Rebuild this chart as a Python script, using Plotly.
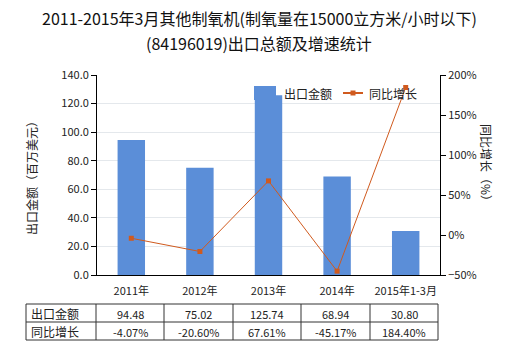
import plotly.graph_objects as go

categories = ["2011年", "2012年", "2013年", "2014年", "2015年1-3月"]
export_values = [94.48, 75.02, 125.74, 68.94, 30.80]
growth_values = [-4.07, -20.60, 67.61, -45.17, 184.40]
row_labels = ["出口金额", "同比增长"]
series_names = ["出口金额", "同比增长"]
title_lines = ["2011-2015年3月其他制氧机(制氧量在15000立方米/小时以下)",
               "(84196019)出口总额及增速统计"]

W, H = 520, 350
L, R, T, B = 97, 440, 75, 275
FONT = "Noto Sans CJK SC"
BAR_C = "#5B8ED8"
LINE_C = "#D05A1E"

def px(x):
    return (x - L) / (R - L)

def py(y):
    return (B - y) / (B - T)

fig = go.Figure()
fig.add_trace(go.Bar(x=categories, y=export_values, name=series_names[0],
                     marker=dict(color=BAR_C, line=dict(width=0)),
                     width=0.4, yaxis="y"))
fig.add_trace(go.Scatter(x=categories, y=growth_values, name=series_names[1],
                         mode="lines+markers", yaxis="y2",
                         line=dict(color=LINE_C, width=1),
                         marker=dict(symbol="square", size=5, color=LINE_C)))

shapes = []
annotations = []
# table
col_x = [26, 96, 164, 233, 301, 370, 438]
row_y = [304, 322, 340]
for y in row_y:
    shapes.append(dict(type="line", xref="paper", yref="paper",
                       x0=px(col_x[0]), x1=px(col_x[-1]), y0=py(y), y1=py(y),
                       line=dict(color="#333333", width=1)))
for x in col_x:
    shapes.append(dict(type="line", xref="paper", yref="paper",
                       x0=px(x), x1=px(x), y0=py(row_y[0]), y1=py(row_y[-1]),
                       line=dict(color="#333333", width=1)))
rows = [[f"{v:.2f}" for v in export_values], [f"{v:.2f}%" for v in growth_values]]
for r, (lab, vals) in enumerate(zip(row_labels, rows)):
    yc = (row_y[r] + row_y[r + 1]) / 2
    annotations.append(dict(text=lab, xref="paper", yref="paper", x=px(col_x[0] + 3),
                            y=py(yc), xanchor="left", yanchor="middle", showarrow=False,
                            font=dict(size=12, color="#222", family=FONT)))
    for i, v in enumerate(vals):
        xc = (col_x[i + 1] + col_x[i + 2]) / 2
        annotations.append(dict(text=v, xref="paper", yref="paper", x=px(xc), y=py(yc + 1),
                                xanchor="center", yanchor="middle", showarrow=False,
                                font=dict(size=11, color="#222", family=FONT)))

# custom legend
shapes.append(dict(type="rect", xref="paper", yref="paper",
                   x0=px(254), x1=px(276), y0=py(86), y1=py(100),
                   fillcolor=BAR_C, line=dict(width=0)))
annotations.append(dict(text=series_names[0], xref="paper", yref="paper", x=px(282), y=py(93),
                        xanchor="left", yanchor="middle", showarrow=False,
                        font=dict(size=12, color="#222", family=FONT)))
shapes.append(dict(type="line", xref="paper", yref="paper",
                   x0=px(343), x1=px(363), y0=py(93), y1=py(93),
                   line=dict(color=LINE_C, width=2)))
shapes.append(dict(type="rect", xref="paper", yref="paper",
                   x0=px(350.5), x1=px(355.5), y0=py(90.5), y1=py(95.5),
                   fillcolor=LINE_C, line=dict(width=0)))
annotations.append(dict(text=series_names[1], xref="paper", yref="paper", x=px(367), y=py(93),
                        xanchor="left", yanchor="middle", showarrow=False,
                        font=dict(size=12, color="#222", family=FONT)))

# titles
for line, yy in zip(title_lines, [18, 43]):
    annotations.append(dict(text=line, xref="paper", yref="paper", x=px(259), y=py(yy),
                            xanchor="center", yanchor="middle", showarrow=False,
                            font=dict(size=16, color="#111", family=FONT)))
annotations.append(dict(text="出口金额（百万美元）", xref="paper", yref="paper",
                        x=px(31), y=py(175), textangle=-90, xanchor="center", yanchor="middle",
                        showarrow=False, font=dict(size=12, color="#222", family=FONT)))
annotations.append(dict(text="同比增长（%）", xref="paper", yref="paper",
                        x=px(487), y=py(165), textangle=90, xanchor="center", yanchor="middle",
                        showarrow=False, font=dict(size=12, color="#222", family=FONT)))

fig.update_layout(
    width=W, height=H,
    margin=dict(l=L, r=W - R, t=T, b=H - B),
    paper_bgcolor="white", plot_bgcolor="white",
    font=dict(family=FONT, size=11, color="#222"),
    showlegend=False,
    xaxis=dict(type="category", showline=True, linecolor="#000", linewidth=1,
               ticks="", showgrid=False, tickfont=dict(size=11), ticklabelstandoff=6),
    yaxis=dict(range=[0, 140], dtick=20, tickformat=".1f", showline=True, linecolor="#000",
               linewidth=1, ticks="outside", ticklen=5, tickcolor="#000",
               showgrid=True, gridcolor="#E4E8EC", gridwidth=1, zeroline=False,
               tickfont=dict(size=11)),
    yaxis2=dict(range=[-50, 200], dtick=50, ticksuffix="%", overlaying="y", side="right",
                showline=True, linecolor="#000", linewidth=1, ticks="outside", ticklen=5,
                tickcolor="#000", showgrid=False, zeroline=False, tickfont=dict(size=11)),
    shapes=shapes,
    annotations=annotations,
)

fig.write_html("out.html")
